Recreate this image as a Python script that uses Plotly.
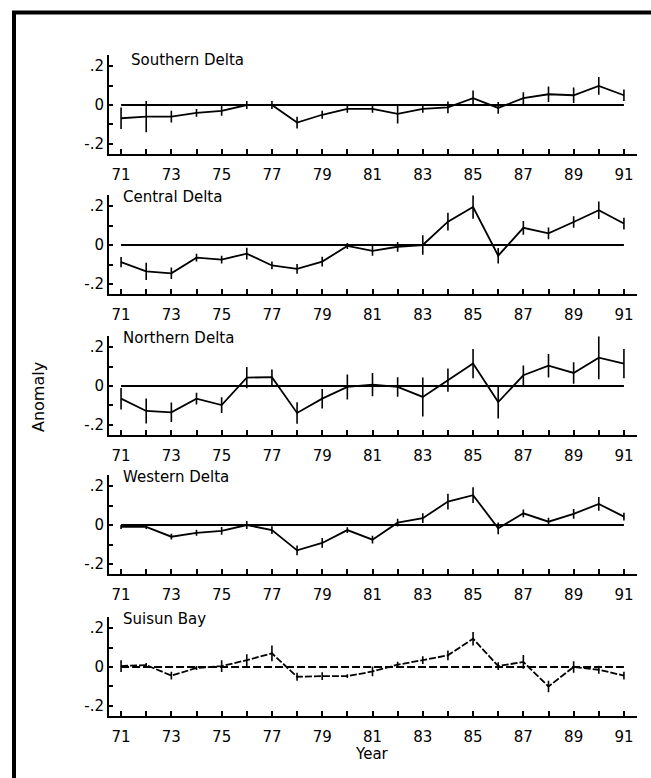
import plotly.graph_objects as go

# Water-year anomalies by region, 1971-1991
years = list(range(71, 92))

regions = ["Southern Delta", "Central Delta", "Northern Delta", "Western Delta", "Suisun Bay"]

southern = [-0.068, -0.06, -0.06, -0.04, -0.03, 0.0, 0.0, -0.09, -0.05, -0.02, -0.02,
            -0.045, -0.02, -0.012, 0.035, -0.015, 0.035, 0.055, 0.05, 0.098, 0.05]
southern_err = [0.055, 0.08, 0.03, 0.02, 0.025, 0.02, 0.02, 0.03, 0.02, 0.02, 0.02,
                0.05, 0.02, 0.03, 0.04, 0.03, 0.03, 0.04, 0.04, 0.045, 0.03]

central = [-0.088, -0.135, -0.145, -0.065, -0.075, -0.044, -0.105, -0.122, -0.085, -0.005, -0.03,
           -0.009, 0.0, 0.12, 0.195, -0.055, 0.088, 0.06, 0.118, 0.178, 0.11]
central_err = [0.026, 0.044, 0.03, 0.02, 0.02, 0.03, 0.02, 0.025, 0.025, 0.015, 0.025,
               0.025, 0.05, 0.045, 0.06, 0.04, 0.035, 0.03, 0.03, 0.045, 0.03]

northern = [-0.065, -0.128, -0.135, -0.065, -0.098, 0.043, 0.045, -0.138, -0.065, -0.005, 0.007,
            -0.005, -0.056, 0.03, 0.115, -0.082, 0.055, 0.104, 0.067, 0.145, 0.115]
northern_err = [0.055, 0.064, 0.05, 0.03, 0.04, 0.055, 0.04, 0.055, 0.05, 0.064, 0.06,
                0.05, 0.1, 0.06, 0.075, 0.085, 0.05, 0.06, 0.055, 0.11, 0.075]

western = [-0.01, -0.01, -0.06, -0.04, -0.03, 0.0, -0.026, -0.13, -0.092, -0.026, -0.075,
           0.012, 0.035, 0.12, 0.153, -0.017, 0.06, 0.017, 0.057, 0.108, 0.043]
western_err = [0.01, 0.01, 0.015, 0.015, 0.02, 0.02, 0.02, 0.025, 0.025, 0.015, 0.02,
               0.02, 0.025, 0.04, 0.04, 0.03, 0.02, 0.02, 0.025, 0.035, 0.02]

suisun = [0.005, 0.01, -0.044, -0.005, 0.005, 0.035, 0.07, -0.05, -0.047, -0.047, -0.023,
          0.012, 0.035, 0.06, 0.145, 0.005, 0.026, -0.1, 0.0, -0.014, -0.044]
suisun_err = [0.03, 0.01, 0.02, 0.01, 0.03, 0.03, 0.04, 0.02, 0.02, 0.01, 0.025,
              0.015, 0.02, 0.025, 0.035, 0.02, 0.035, 0.03, 0.03, 0.02, 0.02]

series = [southern, central, northern, western, suisun]
errors = [southern_err, central_err, northern_err, western_err, suisun_err]

y_tickvals = [-0.2, -0.1, 0.0, 0.1, 0.2]
y_ticktext = ["-.2", "", "0", "", ".2"]
x_ticktext = [str(y) if y % 2 == 1 else "" for y in years]

W, H = 651, 778
FONT = "DejaVu Sans"
Y_RANGE = [-0.25, 0.255]
PX_PER_UNIT = 195
zero_px = [105, 245, 386, 525, 667]
x_left_px, x_right_px = 109, 637

fig = go.Figure()

layout = dict(
    width=W, height=H,
    margin=dict(l=0, r=0, t=0, b=0),
    paper_bgcolor="white", plot_bgcolor="white",
    showlegend=False,
    font=dict(family=FONT, color="black", size=14),
)

annotations = []
for i, (name, vals, errs) in enumerate(zip(regions, series, errors)):
    n = i + 1
    xa = "x" if n == 1 else f"x{n}"
    ya = "y" if n == 1 else f"y{n}"
    top_px = zero_px[i] - Y_RANGE[1] * PX_PER_UNIT
    bot_px = zero_px[i] - Y_RANGE[0] * PX_PER_UNIT
    dom_y = [1 - bot_px / H, 1 - top_px / H]
    dom_x = [x_left_px / W, x_right_px / W]

    dashed = name == "Suisun Bay"

    # reference line at zero
    fig.add_trace(go.Scatter(
        x=[years[0], years[-1]], y=[0, 0], mode="lines",
        line=dict(color="black", width=1.8, dash="8px,3px" if dashed else "solid"),
        xaxis=xa, yaxis=ya, hoverinfo="skip",
    ))
    # anomaly series with error bars
    fig.add_trace(go.Scatter(
        x=years, y=vals, mode="lines",
        line=dict(color="black", width=1.8, dash="7px,2px" if dashed else "solid"),
        error_y=dict(type="data", array=errs, visible=True, color="black",
                     thickness=1.6, width=0),
        xaxis=xa, yaxis=ya,
    ))

    layout["xaxis" if n == 1 else f"xaxis{n}"] = dict(
        domain=dom_x, range=[70.52, 91.52], anchor=ya,
        tickvals=years, ticktext=x_ticktext,
        ticks="inside", ticklen=5, tickwidth=1.6, tickcolor="black",
        showline=True, linecolor="black", linewidth=1.8,
        showgrid=False, zeroline=False, ticklabelstandoff=6,
        tickfont=dict(size=15, family=FONT, color="black"),
    )
    layout["yaxis" if n == 1 else f"yaxis{n}"] = dict(
        domain=dom_y, range=Y_RANGE, anchor=xa,
        tickvals=y_tickvals, ticktext=y_ticktext,
        ticks="inside", ticklen=4, tickwidth=1.6, tickcolor="black",
        showline=True, linecolor="black", linewidth=1.8,
        showgrid=False, zeroline=False,
        tickfont=dict(size=15, family=FONT, color="black"),
    )

    annotations.append(dict(
        text=name, xref="paper", yref="paper",
        x=(x_left_px + (20 if i == 0 else 12)) / W, y=1 - (top_px + (5 if i == 0 else 2)) / H,
        xanchor="left", yanchor="middle", showarrow=False,
        font=dict(size=15, family=FONT, color="black"),
    ))

annotations.append(dict(
    text="Anomaly", xref="paper", yref="paper", x=38 / W, y=1 - 397 / H,
    textangle=-90, showarrow=False, xanchor="center", yanchor="middle",
    font=dict(size=16, family=FONT, color="black"),
))
annotations.append(dict(
    text="Year", xref="paper", yref="paper", x=372 / W, y=1 - 754 / H,
    showarrow=False, xanchor="center", yanchor="middle",
    font=dict(size=15, family=FONT, color="black"),
))

# heavy frame along the top and left edges
shapes = [
    dict(type="line", xref="paper", yref="paper", x0=12 / W, x1=1.0,
         y0=1 - 12.5 / H, y1=1 - 12.5 / H, line=dict(color="black", width=4)),
    dict(type="line", xref="paper", yref="paper", x0=14 / W, x1=14 / W,
         y0=1 - 11 / H, y1=0.0, line=dict(color="black", width=4)),
]

layout["annotations"] = annotations
layout["shapes"] = shapes
fig.update_layout(**layout)

fig.write_html("out.html")
